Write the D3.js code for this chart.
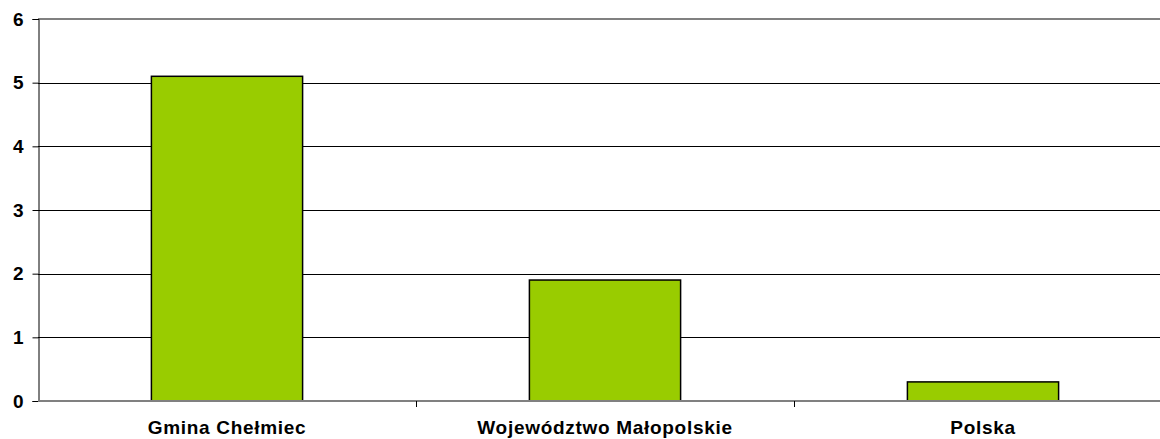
<!DOCTYPE html>
<html>
<head>
<meta charset="utf-8">
<script src="https://cdn.jsdelivr.net/npm/d3@7"></script>
<style>
  body { margin: 0; background: #fff; }
  text { font-family: "Liberation Sans", Arial, sans-serif; font-weight: bold; }
</style>
</head>
<body>
<div id="chart"></div>
<script>
// Data
const categories = ["Gmina Chełmiec", "Województwo Małopolskie", "Polska"];
const values = [5.1, 1.9, 0.3];
const yTicks = [0, 1, 2, 3, 4, 5, 6];

const svgWidth = 1160;
const svgHeight = 439;

const margin = { top: 19, right: -12, bottom: 38, left: 38 };
const chartWidth = svgWidth - margin.left - margin.right;
const chartHeight = svgHeight - margin.top - margin.bottom;

const svg = d3.select("#chart")
  .append("svg")
  .attr("width", svgWidth)
  .attr("height", svgHeight);

const chartGroup = svg.append("g")
  .attr("transform", `translate(${margin.left}, ${margin.top})`);

const x = d3.scaleBand()
  .domain(categories)
  .range([0, chartWidth])
  .paddingInner(0.6)
  .paddingOuter(0.3);

const y = d3.scaleLinear()
  .domain([0, 6])
  .range([chartHeight, 0]);

// gridlines
chartGroup.selectAll(".grid")
  .data(yTicks.filter(d => d > 0 && d < 6))
  .enter()
  .append("line")
  .attr("x1", 0)
  .attr("x2", chartWidth)
  .attr("y1", d => Math.round(y(d)) + 0.5)
  .attr("y2", d => Math.round(y(d)) + 0.5)
  .attr("stroke", "#000")
  .attr("stroke-width", 1);

// top line
chartGroup.append("line")
  .attr("x1", 0)
  .attr("x2", chartWidth)
  .attr("y1", y(6))
  .attr("y2", y(6))
  .attr("stroke", "#808080")
  .attr("stroke-width", 2);

// bars
chartGroup.selectAll("rect")
  .data(values)
  .enter()
  .append("rect")
  .attr("x", (d, i) => x(categories[i]))
  .attr("y", d => y(d))
  .attr("width", x.bandwidth())
  .attr("height", d => chartHeight - y(d))
  .attr("fill", "#99CC00")
  .attr("stroke", "#000")
  .attr("stroke-width", 1.5);

// left axis
const leftAxis = d3.axisLeft(y)
  .tickValues(yTicks)
  .tickFormat(d3.format("d"))
  .tickSize(6)
  .tickPadding(9);

const yAxisG = chartGroup.append("g")
  .attr("transform", "translate(0.5, 0)")
  .call(leftAxis);
yAxisG.select(".domain").attr("stroke", "#000");
yAxisG.selectAll(".tick line").attr("stroke", "#000");
yAxisG.selectAll("text")
  .attr("font-size", 19)
  .attr("fill", "#000")
  .style("font-family", "'Liberation Sans', Arial, sans-serif")
  .style("font-weight", "bold");

// bottom axis
const step = x.step();
const boundaries = [1, 2].map(i => x(categories[i]) - (step - x.bandwidth()) / 2);

chartGroup.append("line")
  .attr("x1", 0)
  .attr("x2", chartWidth)
  .attr("y1", chartHeight)
  .attr("y2", chartHeight)
  .attr("stroke", "#808080")
  .attr("stroke-width", 2);

chartGroup.selectAll(".xtick")
  .data(boundaries)
  .enter()
  .append("line")
  .attr("x1", d => Math.round(d) + 0.5)
  .attr("x2", d => Math.round(d) + 0.5)
  .attr("y1", chartHeight)
  .attr("y2", chartHeight + 6)
  .attr("stroke", "#000");

chartGroup.selectAll(".xlabel")
  .data(categories)
  .enter()
  .append("text")
  .attr("x", d => x(d) + x.bandwidth() / 2)
  .attr("y", chartHeight + 33)
  .attr("text-anchor", "middle")
  .attr("font-size", 19)
  .attr("letter-spacing", 0.7)
  .attr("fill", "#000")
  .text(d => d);
</script>
</body>
</html>
